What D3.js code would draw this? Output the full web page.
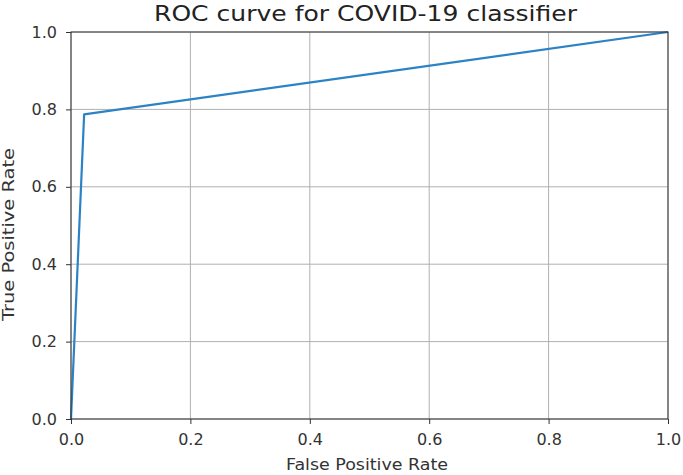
<!DOCTYPE html>
<html><head><meta charset="utf-8">
<script src="https://cdn.jsdelivr.net/npm/d3@7"></script>
<style>body{margin:0;background:#fff}svg{display:block}text{font-family:"DejaVu Sans",sans-serif}</style>
</head><body>
<svg id="c" width="683" height="475"></svg>
<script>
const fpr = [0, 0.022, 1];
const tpr = [0, 0.787, 1];
const xTicks = [0, 0.2, 0.4, 0.6, 0.8, 1.0];
const yTicks = [0, 0.2, 0.4, 0.6, 0.8, 1.0];
const title = "ROC curve for COVID-19 classifier";
const xLabel = "False Positive Rate";
const yLabel = "True Positive Rate";

const svg = d3.select("#c");
const L = 71, R = 668, T = 32, B = 419;
const x = d3.scaleLinear().domain([0, 1]).range([L, R]);
const y = d3.scaleLinear().domain([0, 1]).range([B, T]);

// grid
svg.append("g").selectAll("line").data(xTicks).join("line")
  .attr("x1", d => x(d)).attr("x2", d => x(d)).attr("y1", T).attr("y2", B)
  .attr("stroke", "#b0b0b0").attr("stroke-width", 1);
svg.append("g").selectAll("line").data(yTicks).join("line")
  .attr("y1", d => y(d)).attr("y2", d => y(d)).attr("x1", L).attr("x2", R)
  .attr("stroke", "#b0b0b0").attr("stroke-width", 1);

// line
svg.append("path")
  .datum(fpr.map((f, i) => [f, tpr[i]]))
  .attr("fill", "none").attr("stroke", "#2b83c6").attr("stroke-width", 2.2)
  .attr("stroke-linejoin", "round")
  .attr("d", d3.line().x(d => x(d[0])).y(d => y(d[1])));

const fmt = d3.format(".1f");
const xa = svg.append("g").attr("transform", `translate(0,${B})`)
  .call(d3.axisBottom(x).tickValues(xTicks).tickFormat(fmt).tickSize(5).tickPadding(10));
const ya = svg.append("g").attr("transform", `translate(${L},0)`)
  .call(d3.axisLeft(y).tickValues(yTicks).tickFormat(fmt).tickSize(5).tickPadding(9));
[xa, ya].forEach(a => {
  a.select(".domain").remove();
  a.selectAll("line").attr("stroke", "#333");
  a.selectAll("text").attr("font-size", 16).attr("fill", "#333")
    .attr("font-family", "DejaVu Sans, sans-serif");
});

// frame
svg.append("rect").attr("x", L).attr("y", T).attr("width", R - L).attr("height", B - T)
  .attr("fill", "none").attr("stroke", "#333").attr("stroke-width", 1);

svg.append("text").attr("x", 365.5).attr("y", 21).attr("text-anchor", "middle")
  .attr("font-size", 21).attr("fill", "#222")
  .attr("textLength", 423).attr("lengthAdjust", "spacingAndGlyphs").text(title);
svg.append("text").attr("x", 367).attr("y", 470).attr("text-anchor", "middle")
  .attr("font-size", 16).attr("fill", "#333")
  .attr("textLength", 162).attr("lengthAdjust", "spacingAndGlyphs").text(xLabel);
svg.append("text").attr("transform", `translate(14,234.5) rotate(-90)`)
  .attr("text-anchor", "middle").attr("font-size", 16).attr("fill", "#333")
  .attr("textLength", 173).attr("lengthAdjust", "spacingAndGlyphs").text(yLabel);
</script>
</body></html>
